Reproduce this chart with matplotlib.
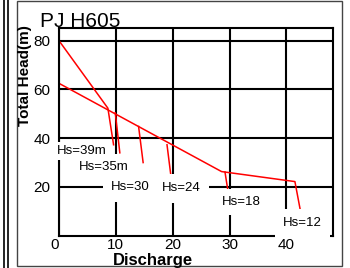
import matplotlib
matplotlib.use('Agg')
import matplotlib.pyplot as plt
from matplotlib.lines import Line2D
from matplotlib.patches import Rectangle

plt.rcParams['font.family'] = ['Liberation Sans', 'DejaVu Sans']

# curve values (discharge, head)
upper_q = [0, 8.6, 9.6]
upper_h = [80, 52.3, 37.3]
lower_q = [0, 28.6, 41.5, 42.6]
lower_h = [62.5, 26.3, 22.2, 8.6]
# short drops hanging from the lower curve
drop_q = [(9.9, 10.7), (14.0, 14.8), (19.0, 19.7), (29.2, 29.8)]
drop_h = [(50.4, 34.0), (44.8, 30.0), (37.3, 24.3), (26.1, 17.2)]

# suction head labels
hs_labels = ['Hs=39m', 'Hs=35m', 'Hs=30', 'Hs=24', 'Hs=18', 'Hs=12']
hs_q = [-0.35, 3.5, 9.2, 18.1, 28.6, 39.4]
hs_h = [34.8, 28.0, 19.8, 19.4, 13.7, 5.1]
hs_pad = [2, 5, 6, 6, 5, 6]

x_ticks = [0, 10, 20, 30, 40]
y_ticks = [20, 40, 60, 80]

fig = plt.figure(figsize=(3.5, 2.68), dpi=100)
ax = fig.add_axes([59/350, 1-235.7/268, 274/350, 207.7/268])

ax.plot(upper_q, upper_h, color='red', lw=1.1, zorder=2)
ax.plot(lower_q, lower_h, color='red', lw=1.1, zorder=2)
for q, h in zip(drop_q, drop_h):
    ax.plot(q, h, color='red', lw=1.1, zorder=2)

# white boxes behind the labels hide the grid, like the original
for t, q, h, p in zip(hs_labels, hs_q, hs_h, hs_pad):
    ax.text(q, h, t, fontsize=9.5, ha='left', va='center', zorder=4, clip_on=False,
            bbox=dict(fc='white', ec='none', pad=p))

ax.set_xlim(0, 48.2)
ax.set_ylim(0, 85.2)
ax.set_xticks(x_ticks)
ax.set_yticks(y_ticks)
ax.tick_params(length=0, labelsize=11)
ax.tick_params(axis='x', pad=2)
ax.tick_params(axis='y', pad=6)
ax.get_xticklabels()[0].set_ha('right')
ax.grid(True, color='black', lw=1.5)
ax.set_axisbelow(True)
for s in ax.spines.values():
    s.set_linewidth(1.5)

fig.text(40/350, 1-27/268, 'PJ H605', fontsize=15, ha='left', va='baseline')
fig.text(25/350, 1-76/268, 'Total Head(m)', fontsize=11, fontweight='bold',
         rotation=90, ha='center', va='center')
fig.text(153/350, 1-265.5/268, 'Discharge', fontsize=12, fontweight='bold',
         ha='center', va='baseline')

# page frame
for x in [4/350, 7.5/350]:
    fig.add_artist(Line2D([x, x], [0, 1], color='black', lw=1.2))
fig.add_artist(Rectangle((17/350, 1-266/268), 325/350, 265.5/268, fill=False,
                         ec='#444444', lw=1.0))

fig.savefig('out.png', dpi=100)
